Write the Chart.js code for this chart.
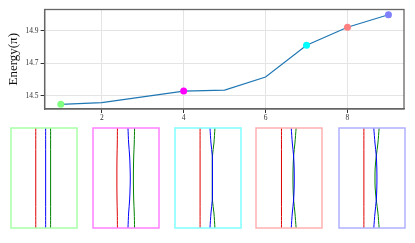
<!DOCTYPE html>
<html>
<head>
<meta charset="utf-8">
<script src="https://cdn.jsdelivr.net/npm/chart.js@4"></script>
<style>
  body { margin: 0; background: #fff; width: 415px; height: 243px; position: relative; overflow: hidden; }
  canvas { position: absolute; }
</style>
</head>
<body>
<canvas id="energyChart" width="415" height="125" style="left:0;top:0"></canvas>
<canvas id="p0" width="68" height="102"></canvas>
<canvas id="p1" width="68" height="102"></canvas>
<canvas id="p2" width="68" height="102"></canvas>
<canvas id="p3" width="68" height="102"></canvas>
<canvas id="p4" width="68" height="102"></canvas>
<script>
'use strict';

// top chart data
let steps = [1, 2, 3, 4, 5, 6, 7, 8, 9];
let energy = [14.449, 14.459, 14.495, 14.530, 14.536, 14.617, 14.812, 14.923, 15.000];
let xTicks = [2, 4, 6, 8];
let yTicks = [14.5, 14.7, 14.9];

// which steps get a marker, and its colour
let markedSteps = [1, 4, 7, 8, 9];
let markerColors = ['#80ff80', '#ff00ff', '#00ffff', '#ff8080', '#8080ff'];
let panelBorders = ['#a8ffa8', '#ff80ff', '#80ffff', '#ffb0b0', '#b0b0ff'];

// bottom panels: x position of each curve at these heights
let levels = [0, 0.15, 0.28, 0.4, 0.5, 0.6, 0.72, 0.85, 1];
let redCurves = [
  [0.375, 0.375, 0.375, 0.375, 0.375, 0.375, 0.375, 0.375, 0.375],
  [0.370, 0.368, 0.364, 0.362, 0.362, 0.362, 0.364, 0.368, 0.370],
  [0.380, 0.380, 0.380, 0.380, 0.380, 0.380, 0.380, 0.380, 0.380],
  [0.386, 0.386, 0.386, 0.386, 0.386, 0.386, 0.386, 0.386, 0.386],
  [0.377, 0.377, 0.377, 0.377, 0.377, 0.377, 0.377, 0.377, 0.377],
];
let blueCurves = [
  [0.525, 0.525, 0.525, 0.525, 0.525, 0.525, 0.525, 0.525, 0.525],
  [0.530, 0.540, 0.555, 0.562, 0.565, 0.562, 0.555, 0.540, 0.530],
  [0.530, 0.545, 0.565, 0.567, 0.567, 0.567, 0.565, 0.545, 0.530],
  [0.534, 0.550, 0.570, 0.578, 0.580, 0.578, 0.570, 0.550, 0.534],
  [0.527, 0.545, 0.565, 0.573, 0.575, 0.573, 0.565, 0.545, 0.527],
];
let greenCurves = [
  [0.600, 0.600, 0.600, 0.600, 0.600, 0.600, 0.600, 0.600, 0.600],
  [0.630, 0.625, 0.617, 0.613, 0.612, 0.613, 0.617, 0.625, 0.630],
  [0.605, 0.590, 0.567, 0.565, 0.565, 0.565, 0.567, 0.590, 0.605],
  [0.608, 0.590, 0.570, 0.562, 0.560, 0.562, 0.570, 0.590, 0.608],
  [0.608, 0.590, 0.565, 0.548, 0.545, 0.548, 0.565, 0.590, 0.608],
];

let panelPos = [[10, 126.5], [91.5, 126.5], [173.5, 126.5], [255, 126.5], [338, 126.5]];

const serif = '"Liberation Serif", "DejaVu Serif", serif';

function frame(color, width) {
  return {
    id: 'frame',
    afterDraw(chart) {
      const a = chart.chartArea;
      const c = chart.ctx;
      c.save();
      c.strokeStyle = color;
      c.lineWidth = width;
      c.strokeRect(a.left, a.top, a.right - a.left, a.bottom - a.top);
      c.restore();
    }
  };
}

let radii = steps.map(s => markedSteps.includes(s) ? 3.5 : 0);
let fills = steps.map(s => {
  let i = markedSteps.indexOf(s);
  return i >= 0 ? markerColors[i] : '#1f77b4';
});

new Chart(document.getElementById('energyChart'), {
  type: 'line',
  data: {
    datasets: [{
      data: steps.map((s, i) => ({ x: s, y: energy[i] })),
      borderColor: '#1f77b4',
      borderWidth: 1.2,
      pointRadius: radii,
      pointBackgroundColor: fills,
      pointBorderWidth: 0,
      tension: 0
    }]
  },
  options: {
    responsive: false,
    animation: false,
    plugins: { legend: { display: false }, tooltip: { enabled: false } },
    layout: { padding: { top: 9.5, right: 11, left: 0, bottom: 0 } },
    scales: {
      x: {
        type: 'linear',
        min: 0.604,
        max: 9.38,
        afterBuildTicks: s => { s.ticks = xTicks.map(v => ({ value: v })); },
        afterFit: s => { s.height = 16; },
        grid: { color: '#e4e4e4', tickColor: '#333', tickLength: 4 },
        border: { color: '#666', width: 1.3 },
        ticks: { color: '#333', font: { family: serif, size: 7.5 }, padding: 1, maxRotation: 0 }
      },
      y: {
        min: 14.42,
        max: 15.032,
        afterBuildTicks: s => { s.ticks = yTicks.map(v => ({ value: v })); },
        afterFit: s => { s.width = 44.6; },
        grid: { color: '#e4e4e4', tickColor: '#333', tickLength: 4 },
        border: { color: '#666', width: 1.3 },
        ticks: { color: '#333', font: { family: serif, size: 7.5 }, padding: 2, callback: v => v.toFixed(1) },
        title: { display: true, text: 'Energy(π)', color: '#111', font: { family: serif, size: 13 }, padding: { top: 6, bottom: 0 } }
      }
    }
  },
  plugins: [frame('#666', 1.3)]
});

function curve(xs, color) {
  return {
    data: levels.map((y, i) => ({ x: xs[i], y: y })),
    borderColor: color,
    borderWidth: 1,
    pointRadius: 0,
    tension: 0.3,
    showLine: true
  };
}

for (let p = 0; p < 5; p++) {
  let el = document.getElementById('p' + p);
  el.style.left = panelPos[p][0] + 'px';
  el.style.top = panelPos[p][1] + 'px';
  new Chart(el, {
    type: 'scatter',
    data: {
      datasets: [
        curve(redCurves[p], '#e00000'),
        curve(blueCurves[p], '#0000ff'),
        curve(greenCurves[p], '#008000')
      ]
    },
    options: {
      responsive: false,
      animation: false,
      plugins: { legend: { display: false }, tooltip: { enabled: false } },
      layout: { padding: 1 },
      scales: {
        x: { display: false, min: 0, max: 1 },
        y: { display: false, min: 0, max: 1, reverse: true }
      }
    },
    plugins: [frame(panelBorders[p], 1.5)]
  });
}
</script>
</body>
</html>
